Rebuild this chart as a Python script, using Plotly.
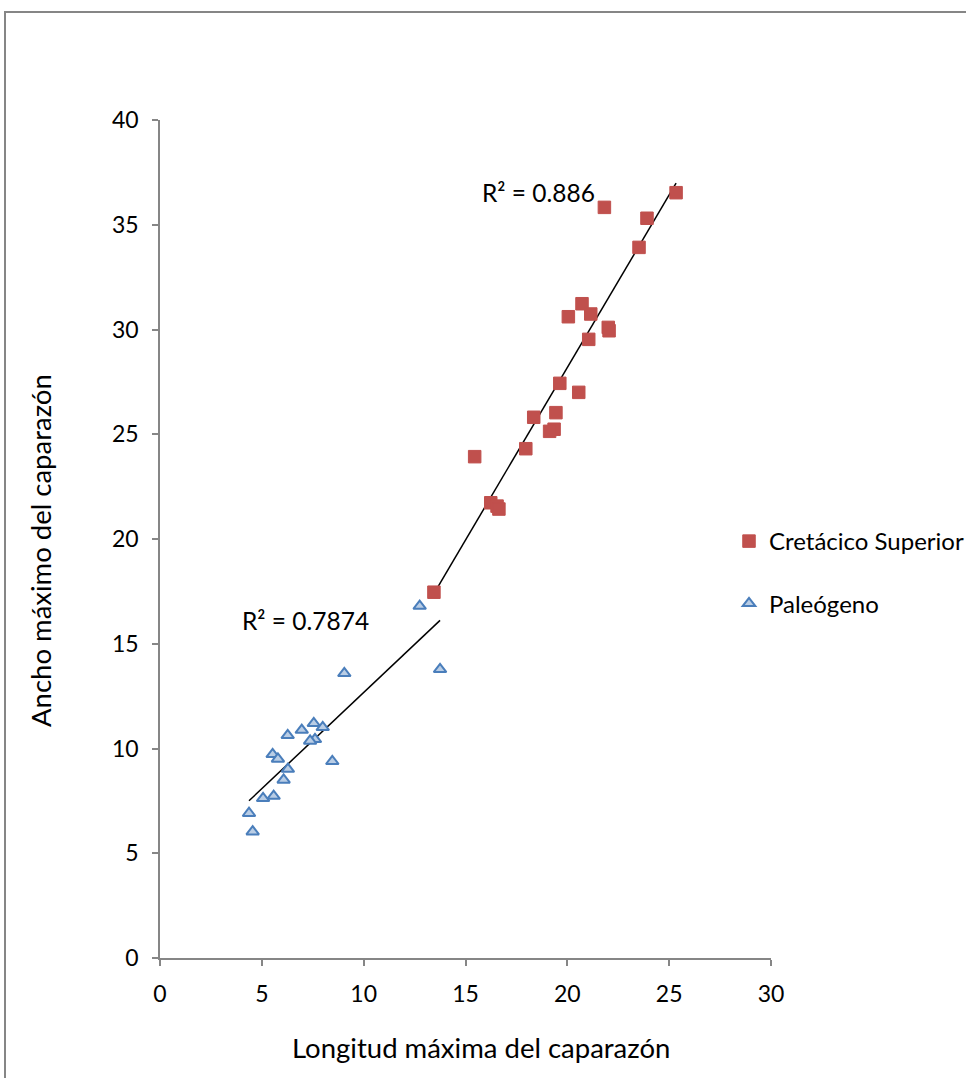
import numpy as np
import plotly.graph_objects as go

# Cretácico Superior
cret_x = [25.34, 21.82, 23.91, 23.52, 20.72, 20.05, 21.15, 22.01, 22.05, 21.05, 19.63,
          20.56, 19.44, 18.35, 19.35, 19.13, 17.96, 15.45, 16.24, 16.55, 16.64, 13.45]
cret_y = [36.53, 35.83, 35.31, 33.92, 31.23, 30.61, 30.74, 30.10, 29.94, 29.53, 27.43,
          27.00, 26.03, 25.81, 25.24, 25.14, 24.31, 23.93, 21.73, 21.57, 21.43, 17.46]

# Paleógeno
pal_x = [12.75, 13.75, 9.05, 7.55, 7.99, 6.96, 6.27, 7.61, 7.37, 8.46, 5.53, 5.79,
         6.28, 6.07, 5.58, 5.06, 4.37, 4.55]
pal_y = [16.80, 13.78, 13.59, 11.20, 11.01, 10.88, 10.63, 10.44, 10.36, 9.39, 9.72, 9.50,
         9.02, 8.50, 7.73, 7.62, 6.91, 6.03]

series_names = ["Cretácico Superior", "Paleógeno"]
r2_labels = ["R² = 0.886", "R² = 0.7874"]
x_ticks = [0, 5, 10, 15, 20, 25, 30]
y_ticks = [0, 5, 10, 15, 20, 25, 30, 35, 40]
x_title = "Longitud máxima del caparazón"
y_title = "Ancho máximo del caparazón"

FONT = "Lato"
AX = "#868686"

# page geometry (figure fills the page, body margin removed)
PL, PR, PT, PB = 160, 771, 120, 958
PW, PH = PR - PL, PB - PT
W, H = 966, 1078


def px(xp):
    return (xp - PL) / PW


def py(yp):
    return (PB - yp) / PH


def trend(xs, ys):
    m, b = np.polyfit(xs, ys, 1)
    xr = np.array([min(xs), max(xs)])
    return xr, m * xr + b


fig = go.Figure()

tx, ty = trend(cret_x, cret_y)
fig.add_trace(go.Scatter(x=tx, y=ty, mode="lines", line=dict(color="black", width=1.5),
                         showlegend=False, hoverinfo="skip"))
tx2, ty2 = trend(pal_x, pal_y)
fig.add_trace(go.Scatter(x=tx2, y=ty2, mode="lines", line=dict(color="black", width=1.5),
                         showlegend=False, hoverinfo="skip"))

fig.add_trace(go.Scatter(x=cret_x, y=cret_y, mode="markers", name=series_names[0],
                         legendgroup="a",
                         marker=dict(symbol="square", size=12.5, color="#C0504D",
                                     line=dict(color="#C0504D", width=1))))
fig.add_trace(go.Scatter(x=pal_x, y=pal_y, mode="markers", name=series_names[1],
                         legendgroup="b",
                         marker=dict(symbol="triangle-up", size=11, color="#B9CDE5",
                                     line=dict(color="#4A7EBB", width=2))))

fig.add_annotation(x=18.56, y=36.52, text=r2_labels[0], showarrow=False,
                   xanchor="center", yanchor="middle", font=dict(family=FONT, size=24.5, color="black"))
fig.add_annotation(x=7.12, y=16.09, text=r2_labels[1], showarrow=False,
                   xanchor="center", yanchor="middle", font=dict(family=FONT, size=24.5, color="black"))

# axis titles
fig.add_annotation(x=px(481), y=py(1047), xref="paper", yref="paper",
                   text=x_title, showarrow=False, xanchor="center", yanchor="middle",
                   font=dict(family=FONT, size=27.5, color="black"))
fig.add_annotation(x=px(40), y=py(551), xref="paper", yref="paper", textangle=-90,
                   text=y_title, showarrow=False, xanchor="center", yanchor="middle",
                   font=dict(family=FONT, size=27.5, color="black"))

# outer chart border
fig.add_shape(type="rect", xref="paper", yref="paper",
              x0=px(5), x1=px(1000), y0=py(1100), y1=py(12),
              line=dict(color=AX, width=2), layer="below")

axis_common = dict(showgrid=False, zeroline=False, showline=True, linecolor=AX, linewidth=1.5,
                   ticks="outside", ticklen=6, tickcolor=AX, tickwidth=1.5,
                   tickformat="d", ticklabelstandoff=9,
                   tickfont=dict(family=FONT, size=23, color="black"))
fig.update_xaxes(range=[0, 30], tickvals=x_ticks, **axis_common)
fig.update_yaxes(range=[0, 40], tickvals=y_ticks, **axis_common)

fig.update_layout(
    width=W, height=H,
    margin=dict(l=PL, r=W - PR, t=PT, b=H - PB, autoexpand=False),
    plot_bgcolor="white", paper_bgcolor="white",
    font=dict(family=FONT, size=20, color="black"),
    showlegend=True,
    legend=dict(x=px(729), y=py(519), xanchor="left", yanchor="top",
                font=dict(family=FONT, size=24, color="black"),
                tracegroupgap=28, traceorder="grouped", bgcolor="rgba(0,0,0,0)"),
)

fig.write_html("out.html", config={"displayModeBar": False},
               post_script="document.body.style.margin='0px';document.body.style.overflow='hidden';")
